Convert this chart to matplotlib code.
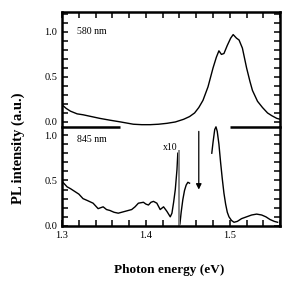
import numpy as np
import matplotlib
matplotlib.use("Agg")
import matplotlib.pyplot as plt
from matplotlib.ticker import MultipleLocator, FixedLocator

# PL spectrum, 580 nm excitation (top panel)
e_580 = [1.300, 1.305, 1.310, 1.318, 1.325, 1.335, 1.345, 1.357, 1.370, 1.385,
         1.395, 1.405, 1.415, 1.425, 1.435, 1.445, 1.452, 1.458, 1.463, 1.468,
         1.474, 1.480, 1.484, 1.487, 1.490, 1.493, 1.497, 1.501, 1.504, 1.508,
         1.511, 1.515, 1.520, 1.524, 1.527, 1.533, 1.539, 1.545, 1.550, 1.556, 1.560]
pl_580 = [0.19, 0.15, 0.12, 0.09, 0.08, 0.06, 0.04, 0.02, 0.00, -0.025,
          -0.03, -0.03, -0.025, -0.015, 0.00, 0.03, 0.06, 0.10, 0.16, 0.24,
          0.39, 0.60, 0.72, 0.79, 0.75, 0.76, 0.85, 0.93, 0.97, 0.93,
          0.91, 0.82, 0.60, 0.45, 0.35, 0.23, 0.16, 0.10, 0.07, 0.04, 0.03]

# PL spectrum, 845 nm excitation (bottom panel), three pieces
e_845a = [1.300, 1.303, 1.306, 1.310, 1.315, 1.320, 1.325, 1.330, 1.337, 1.340,
          1.343, 1.349, 1.353, 1.357, 1.362, 1.367, 1.371, 1.375, 1.379, 1.383,
          1.387, 1.391, 1.397, 1.400, 1.403, 1.406, 1.409, 1.413, 1.417, 1.421,
          1.425, 1.429, 1.431, 1.433, 1.435, 1.437, 1.438]
pl_845a = [0.49, 0.46, 0.43, 0.41, 0.38, 0.35, 0.30, 0.28, 0.25, 0.22,
           0.19, 0.21, 0.18, 0.17, 0.15, 0.14, 0.15, 0.16, 0.17, 0.18,
           0.21, 0.25, 0.26, 0.24, 0.23, 0.26, 0.27, 0.25, 0.18, 0.21,
           0.16, 0.10, 0.14, 0.26, 0.40, 0.62, 0.80]

e_845b = [1.4405, 1.442, 1.444, 1.446, 1.448, 1.450, 1.452]
pl_845b = [0.02, 0.15, 0.29, 0.39, 0.45, 0.48, 0.47]

e_845c = [1.4785, 1.480, 1.482, 1.4835, 1.485, 1.487, 1.489, 1.491, 1.493, 1.495,
          1.497, 1.499, 1.502, 1.505, 1.509, 1.514, 1.520, 1.526, 1.532, 1.538,
          1.543, 1.548, 1.553, 1.557]
pl_845c = [0.80, 0.92, 1.06, 1.09, 1.04, 0.90, 0.70, 0.52, 0.36, 0.24,
           0.15, 0.10, 0.06, 0.04, 0.05, 0.08, 0.10, 0.12, 0.13, 0.12,
           0.10, 0.07, 0.05, 0.04]

x10_pos = 1.439
x10_top = 0.83
arrow_x = 1.463
arrow_y = (1.04, 0.40)

xlim = (1.3, 1.56)
ylim_top = (-0.056, 1.222)
ylim_bot = (0.0, 1.088)

plt.rcParams['font.family'] = ['Liberation Serif', 'DejaVu Serif']

fig = plt.figure(figsize=(2.9, 2.9), dpi=100)
ax1 = fig.add_axes([0.214, 0.562, 0.752, 0.397])
ax2 = fig.add_axes([0.214, 0.221, 0.752, 0.341])

for ax in (ax1, ax2):
    ax.set_xlim(*xlim)
    for s in ax.spines.values():
        s.set_linewidth(1.8)
    ax.tick_params(which='both', direction='in', length=4, width=1.1,
                   labelsize=7.5, top=False, bottom=False, left=True, right=True)
    ax.xaxis.set_major_locator(MultipleLocator(0.1))
    ax.xaxis.set_minor_locator(MultipleLocator(0.02))
    ax.yaxis.set_major_locator(FixedLocator([0.0, 0.5, 1.0]))
    ax.yaxis.set_minor_locator(MultipleLocator(0.1))
    ax.yaxis.set_major_formatter(plt.FormatStrFormatter('%.1f'))

# top panel
ax1.plot(e_580, pl_580, color='black', lw=1.0)
ax1.set_ylim(*ylim_top)
ax1.spines['bottom'].set_visible(False)
ax1.tick_params(which='both', top=True, labelbottom=False)
ax1.text(1.318, 1.0, '580 nm', fontsize=7, va='center')

# bottom panel
ax2.plot(e_845a, pl_845a, color='black', lw=1.0)
ax2.plot(e_845b, pl_845b, color='black', lw=1.0)
ax2.plot(e_845c, pl_845c, color='black', lw=1.0, clip_on=False)
ax2.vlines(x10_pos, 0, x10_top, color='#888888', lw=1.4)
ax2.text(x10_pos - 0.001, 0.86, 'x10', fontsize=7, ha='right', va='center')
ax2.annotate('', xy=(arrow_x, arrow_y[1]), xytext=(arrow_x, arrow_y[0]),
             arrowprops=dict(arrowstyle='-|>', color='black', lw=0.9,
                             mutation_scale=8, shrinkA=0, shrinkB=0))
ax2.text(1.318, 0.95, '845 nm', fontsize=7, va='center')
ax2.set_ylim(*ylim_bot)
ax2.spines['top'].set_visible(False)
ax2.tick_params(which='both', bottom=True)
ax2.hlines(ylim_bot[1], 1.3, 1.369, color='black', lw=1.8, clip_on=False)
ax2.hlines(ylim_bot[1], 1.500, 1.56, color='black', lw=1.8, clip_on=False)

fig.text(0.585, 0.07, 'Photon energy (eV)', ha='center', va='center',
         fontsize=9.5, fontweight='bold')
fig.text(0.062, 0.49, 'PL intensity (a.u.)', ha='center', va='center',
         rotation=90, fontsize=10.5, fontweight='bold')

fig.savefig('out.png', dpi=100)
